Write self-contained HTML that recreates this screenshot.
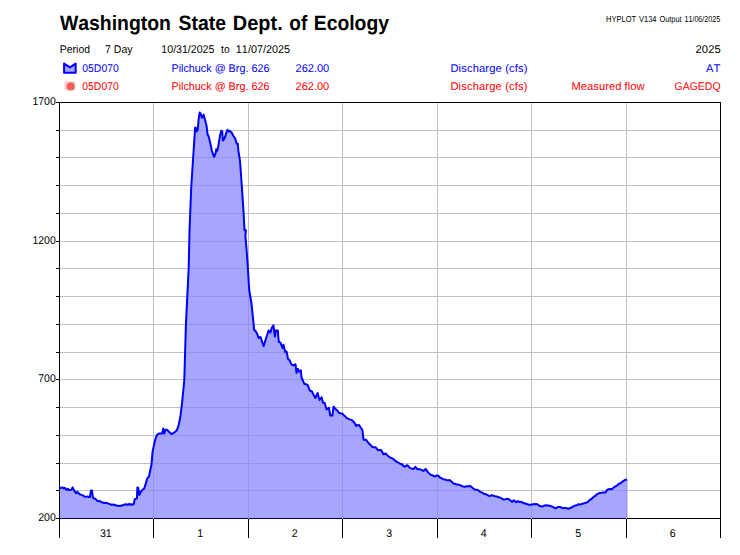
<!DOCTYPE html>
<html><head><meta charset="utf-8"><title>Hydrograph</title>
<style>
html,body{margin:0;padding:0;background:#fff;}
svg{display:block;font-kerning:none;text-rendering:geometricPrecision;font-family:"Liberation Sans",sans-serif;font-size:11.2px;}
.b{fill:#0000ff;} .r{fill:#ff0000;} .k{fill:#000;}
</style></head><body>
<svg width="740" height="555" viewBox="0 0 740 555">
<rect width="740" height="555" fill="#fff"/>
<text transform="translate(59.95 29.8) scale(0.9325 1)" class="k" font-size="20.8" font-weight="bold" xml:space="preserve">Washington</text>
<text transform="translate(178.55 29.8) scale(0.9324 1)" class="k" font-size="20.8" font-weight="bold" xml:space="preserve">State</text>
<text transform="translate(232.85 29.8) scale(0.9584 1)" class="k" font-size="20.8" font-weight="bold" xml:space="preserve">Dept.</text>
<text transform="translate(289.25 29.8) scale(0.9160 1)" class="k" font-size="20.8" font-weight="bold" xml:space="preserve">of</text>
<text transform="translate(313.80 29.8) scale(0.9293 1)" class="k" font-size="20.8" font-weight="bold" xml:space="preserve">Ecology</text>
<text transform="translate(606.10 22) scale(0.8761 1)" class="k" font-size="8.6" xml:space="preserve">HYPLOT</text>
<text transform="translate(639.00 22) scale(0.8702 1)" class="k" font-size="8.6" xml:space="preserve">V134</text>
<text transform="translate(659.40 22) scale(0.8635 1)" class="k" font-size="8.6" xml:space="preserve">Output</text>
<text transform="translate(684.45 22) scale(0.8322 1)" class="k" font-size="8.6" xml:space="preserve">11/06/2025</text>
<text transform="translate(59.85 52.7) scale(0.9318 1)" class="k" xml:space="preserve">Period</text>
<text transform="translate(105.05 52.7) scale(0.9404 1)" class="k" xml:space="preserve">7 Day</text>
<text transform="translate(161.35 52.7) scale(0.9470 1)" class="k" xml:space="preserve">10/31/2025</text>
<text transform="translate(221.10 52.7) scale(0.9152 1)" class="k" xml:space="preserve">to</text>
<text transform="translate(235.85 52.7) scale(0.9681 1)" class="k" xml:space="preserve">11/07/2025</text>
<text transform="translate(695.45 52.7)" class="k" letter-spacing="0.117" xml:space="preserve">2025</text>
<text transform="translate(82.30 71.8) scale(0.9299 1)" class="b" xml:space="preserve">05D070</text>
<text transform="translate(171.45 71.8) scale(0.9651 1)" class="b" xml:space="preserve">Pilchuck @ Brg. 626</text>
<text transform="translate(295.50 71.8) scale(0.9865 1)" class="b" xml:space="preserve">262.00</text>
<text transform="translate(450.40 71.8)" class="b" letter-spacing="0.129" xml:space="preserve">Discharge (cfs)</text>
<text transform="translate(706.00 71.8)" class="b" letter-spacing="0.150" xml:space="preserve">AT</text>
<text transform="translate(82.30 89.8) scale(0.9299 1)" class="r" xml:space="preserve">05D070</text>
<text transform="translate(171.45 89.8) scale(0.9651 1)" class="r" xml:space="preserve">Pilchuck @ Brg. 626</text>
<text transform="translate(295.50 89.8) scale(0.9865 1)" class="r" xml:space="preserve">262.00</text>
<text transform="translate(450.40 89.8)" class="r" letter-spacing="0.129" xml:space="preserve">Discharge (cfs)</text>
<text transform="translate(571.40 89.8)" class="r" letter-spacing="0.033" xml:space="preserve">Measured flow</text>
<text transform="translate(674.55 89.8) scale(0.9365 1)" class="r" xml:space="preserve">GAGEDQ</text>

<path d="M64.1 63.6 L69.9 67.4 L75.7 63.6 L75.7 72.7 L64.1 72.7 Z" fill="#a6a6ff" stroke="#0000ff" stroke-width="2" stroke-linejoin="round"/>
<rect x="64.6" y="81.5" width="10.7" height="8.8" fill="#fbc5c2"/>
<circle cx="70.7" cy="86.5" r="4" fill="#ec6258"/>
<g stroke="#c0c0c0" stroke-width="1" shape-rendering="crispEdges"><line x1="153.5" y1="102.5" x2="153.5" y2="518.5"/><line x1="248.5" y1="102.5" x2="248.5" y2="518.5"/><line x1="342.5" y1="102.5" x2="342.5" y2="518.5"/><line x1="437.5" y1="102.5" x2="437.5" y2="518.5"/><line x1="531.5" y1="102.5" x2="531.5" y2="518.5"/><line x1="626.5" y1="102.5" x2="626.5" y2="518.5"/><line x1="59.5" y1="130.5" x2="720.5" y2="130.5"/><line x1="59.5" y1="157.5" x2="720.5" y2="157.5"/><line x1="59.5" y1="185.5" x2="720.5" y2="185.5"/><line x1="59.5" y1="213.5" x2="720.5" y2="213.5"/><line x1="59.5" y1="241.5" x2="720.5" y2="241.5"/><line x1="59.5" y1="268.5" x2="720.5" y2="268.5"/><line x1="59.5" y1="296.5" x2="720.5" y2="296.5"/><line x1="59.5" y1="324.5" x2="720.5" y2="324.5"/><line x1="59.5" y1="352.5" x2="720.5" y2="352.5"/><line x1="59.5" y1="379.5" x2="720.5" y2="379.5"/><line x1="59.5" y1="407.5" x2="720.5" y2="407.5"/><line x1="59.5" y1="435.5" x2="720.5" y2="435.5"/><line x1="59.5" y1="463.5" x2="720.5" y2="463.5"/><line x1="59.5" y1="490.5" x2="720.5" y2="490.5"/></g>
<g stroke="#000" stroke-width="1" shape-rendering="crispEdges">
<line x1="59.5" y1="102.5" x2="720.5" y2="102.5"/><line x1="59.5" y1="518.5" x2="721" y2="518.5"/>
<line x1="59.5" y1="102.5" x2="59.5" y2="518.5"/><line x1="720.5" y1="102.5" x2="720.5" y2="518.5"/>
<line x1="56" y1="102.5" x2="60" y2="102.5"/><line x1="56" y1="130.5" x2="60" y2="130.5"/><line x1="56" y1="157.5" x2="60" y2="157.5"/><line x1="56" y1="185.5" x2="60" y2="185.5"/><line x1="56" y1="213.5" x2="60" y2="213.5"/><line x1="56" y1="241.5" x2="60" y2="241.5"/><line x1="56" y1="268.5" x2="60" y2="268.5"/><line x1="56" y1="296.5" x2="60" y2="296.5"/><line x1="56" y1="324.5" x2="60" y2="324.5"/><line x1="56" y1="352.5" x2="60" y2="352.5"/><line x1="56" y1="379.5" x2="60" y2="379.5"/><line x1="56" y1="407.5" x2="60" y2="407.5"/><line x1="56" y1="435.5" x2="60" y2="435.5"/><line x1="56" y1="463.5" x2="60" y2="463.5"/><line x1="56" y1="490.5" x2="60" y2="490.5"/><line x1="56" y1="518.5" x2="60" y2="518.5"/><line x1="59.5" y1="518.5" x2="59.5" y2="538"/><line x1="153.5" y1="518.5" x2="153.5" y2="538"/><line x1="248.5" y1="518.5" x2="248.5" y2="538"/><line x1="342.5" y1="518.5" x2="342.5" y2="538"/><line x1="437.5" y1="518.5" x2="437.5" y2="538"/><line x1="531.5" y1="518.5" x2="531.5" y2="538"/><line x1="626.5" y1="518.5" x2="626.5" y2="538"/><line x1="720.5" y1="518.5" x2="720.5" y2="538"/></g>
<defs><clipPath id="ac"><path d="M60.0 487.9 L62.4 487.4 L63.9 488.4 L64.9 487.7 L66.4 489.9 L67.8 488.9 L69.3 490.1 L71.3 489.7 L72.6 487.4 L73.8 489.9 L76.0 493.3 L77.3 491.8 L79.7 494.3 L81.4 494.9 L83.0 495.4 L84.7 496.6 L86.0 496.9 L87.3 496.4 L88.6 497.0 L89.9 497.1 L91.0 490.6 L92.0 490.6 L92.9 497.6 L94.3 498.5 L95.8 499.2 L97.2 500.8 L98.8 501.3 L100.4 501.3 L102.0 502.3 L103.6 502.9 L105.2 502.7 L106.8 503.0 L108.5 503.7 L110.1 504.1 L111.7 504.9 L113.3 504.5 L115.0 505.0 L116.6 505.7 L118.2 505.7 L119.8 506.0 L121.5 505.5 L123.1 505.3 L124.7 504.4 L126.2 504.3 L127.7 504.9 L129.2 503.9 L130.6 504.8 L132.1 504.2 L133.6 504.4 L134.8 499.2 L136.9 498.4 L137.4 487.4 L138.3 487.8 L139.3 495.1 L140.9 491.9 L142.6 489.5 L144.2 488.6 L147.4 478.1 L149.0 476.5 L151.5 464.3 L152.6 451.4 L155.1 440.0 L156.8 435.1 L158.9 433.5 L162.2 433.5 L163.2 428.6 L164.3 433.5 L165.4 429.7 L167.0 429.7 L171.4 434.1 L174.6 432.4 L176.8 430.3 L178.9 424.3 L180.5 415.7 L182.2 401.6 L184.3 380.0 L185.9 325.0 L188.7 267.5 L189.5 231.0 L191.3 186.0 L193.0 160.0 L194.1 143.2 L195.1 127.6 L196.0 128.1 L196.8 131.4 L197.8 129.2 L198.6 119.5 L199.7 112.4 L200.8 114.1 L201.9 117.8 L203.6 114.6 L204.9 119.5 L206.5 125.4 L207.6 134.6 L208.6 136.2 L210.3 143.2 L211.9 150.8 L214.1 156.8 L215.7 153.0 L216.2 149.2 L217.3 150.8 L218.4 145.4 L220.0 135.7 L221.3 130.8 L222.2 131.4 L222.9 140.5 L224.3 138.9 L225.9 134.1 L227.4 129.7 L228.6 131.4 L229.7 130.8 L231.9 133.0 L233.5 136.2 L235.1 138.4 L236.8 143.8 L237.8 143.8 L238.4 150.8 L240.0 160.8 L241.8 186.0 L243.6 213.0 L244.5 230.2 L245.9 230.2 L245.4 235.6 L246.6 250.0 L247.5 262.0 L249.2 290.0 L251.5 303.5 L254.2 329.9 L255.5 331.1 L256.9 333.2 L258.6 338.0 L260.5 337.0 L263.6 346.1 L266.4 337.3 L268.6 330.5 L270.4 332.6 L271.8 327.8 L273.5 325.4 L274.9 336.6 L275.8 330.5 L277.8 330.5 L278.8 342.0 L280.5 342.7 L282.6 348.1 L283.5 344.7 L285.3 352.2 L286.6 351.5 L288.0 358.9 L289.7 360.3 L291.4 364.3 L293.5 365.5 L295.5 364.2 L296.5 373.0 L297.8 368.9 L298.9 371.6 L300.9 370.3 L301.4 377.0 L304.3 383.8 L306.0 384.2 L307.7 385.1 L309.7 390.5 L311.8 391.2 L313.8 395.3 L315.4 398.0 L317.6 393.0 L319.5 400.0 L321.6 397.3 L323.0 402.7 L324.6 402.7 L326.6 409.5 L328.9 407.8 L330.3 415.5 L332.4 415.5 L333.6 406.5 L335.3 408.9 L337.1 410.3 L338.8 412.8 L340.5 413.2 L342.2 413.5 L343.6 415.1 L345.1 416.2 L346.5 417.8 L348.4 418.8 L350.3 419.6 L351.6 419.9 L353.0 421.1 L354.6 423.0 L356.2 425.9 L357.6 425.2 L359.1 425.1 L360.8 427.7 L362.4 430.0 L363.5 439.7 L365.9 439.7 L367.5 441.7 L369.2 443.8 L370.8 445.2 L372.4 447.0 L374.0 447.2 L375.7 447.3 L378.1 450.3 L379.5 450.0 L380.9 449.9 L382.2 451.9 L383.5 454.3 L385.7 453.5 L387.2 455.2 L388.8 456.5 L390.3 457.6 L391.9 458.1 L393.5 459.2 L395.1 460.6 L396.8 461.9 L398.4 462.6 L400.0 463.7 L401.6 464.0 L403.2 465.7 L404.9 466.8 L406.8 465.2 L408.3 466.0 L409.8 467.9 L411.3 468.4 L413.8 468.9 L415.4 466.8 L417.5 469.4 L418.9 469.0 L420.3 469.4 L421.9 470.1 L423.5 471.0 L425.6 468.9 L427.0 471.0 L428.4 472.6 L430.8 474.9 L432.2 475.1 L433.5 476.0 L434.9 476.5 L437.0 475.4 L438.5 475.8 L439.9 477.5 L441.4 478.2 L443.1 479.1 L444.8 479.5 L446.5 480.0 L448.1 480.4 L449.7 480.0 L451.4 481.4 L453.0 483.2 L454.6 483.8 L456.2 484.2 L457.9 484.6 L459.5 484.9 L460.8 485.4 L462.2 486.3 L463.5 486.5 L465.1 486.9 L466.8 486.2 L468.4 486.3 L470.0 486.0 L471.6 486.8 L473.3 488.7 L474.9 489.7 L477.3 489.7 L478.9 490.8 L480.6 492.1 L482.2 492.5 L483.8 493.7 L485.4 493.9 L487.0 494.8 L488.6 495.7 L490.2 495.9 L491.9 495.2 L493.5 495.7 L495.1 496.2 L496.8 496.4 L498.4 497.3 L500.0 497.6 L501.6 498.3 L503.2 499.5 L504.8 499.6 L506.5 498.8 L508.1 499.0 L509.5 499.7 L510.8 500.8 L512.2 501.9 L513.8 500.3 L516.2 502.2 L517.8 501.1 L519.4 502.0 L521.1 501.7 L522.7 502.7 L524.3 503.2 L526.0 503.8 L527.6 504.3 L529.0 504.7 L530.4 504.7 L531.8 504.7 L533.1 504.1 L534.5 504.2 L535.9 504.1 L537.3 504.3 L538.9 505.5 L540.6 506.3 L542.2 506.6 L544.6 505.4 L546.2 505.2 L547.9 505.4 L549.5 505.7 L551.1 506.2 L552.4 506.6 L553.8 507.5 L555.1 508.2 L556.5 507.9 L557.8 507.1 L559.2 507.0 L560.8 507.1 L562.4 508.2 L563.9 508.1 L565.3 508.1 L566.8 508.3 L568.2 508.7 L569.7 508.2 L571.1 507.7 L572.5 506.8 L574.0 506.2 L575.4 505.4 L577.0 505.2 L578.6 504.1 L580.3 504.6 L581.9 503.8 L583.5 503.5 L585.1 503.0 L586.8 502.3 L588.4 501.3 L589.7 500.1 L591.1 499.1 L592.4 498.1 L593.8 496.6 L595.2 496.0 L596.7 494.3 L598.1 493.7 L599.6 493.0 L601.0 492.9 L602.5 492.5 L603.9 492.5 L605.4 492.4 L607.0 490.0 L608.6 489.2 L610.3 488.9 L611.9 489.2 L613.3 487.8 L614.8 486.7 L616.2 486.0 L617.6 485.1 L619.0 483.6 L620.4 483.5 L621.8 482.2 L623.2 481.1 L625.1 479.9 L627.0 479.5 L627.5 479.5 L627.5 519 L60 519 Z"/></clipPath></defs>
<path d="M60.0 487.9 L62.4 487.4 L63.9 488.4 L64.9 487.7 L66.4 489.9 L67.8 488.9 L69.3 490.1 L71.3 489.7 L72.6 487.4 L73.8 489.9 L76.0 493.3 L77.3 491.8 L79.7 494.3 L81.4 494.9 L83.0 495.4 L84.7 496.6 L86.0 496.9 L87.3 496.4 L88.6 497.0 L89.9 497.1 L91.0 490.6 L92.0 490.6 L92.9 497.6 L94.3 498.5 L95.8 499.2 L97.2 500.8 L98.8 501.3 L100.4 501.3 L102.0 502.3 L103.6 502.9 L105.2 502.7 L106.8 503.0 L108.5 503.7 L110.1 504.1 L111.7 504.9 L113.3 504.5 L115.0 505.0 L116.6 505.7 L118.2 505.7 L119.8 506.0 L121.5 505.5 L123.1 505.3 L124.7 504.4 L126.2 504.3 L127.7 504.9 L129.2 503.9 L130.6 504.8 L132.1 504.2 L133.6 504.4 L134.8 499.2 L136.9 498.4 L137.4 487.4 L138.3 487.8 L139.3 495.1 L140.9 491.9 L142.6 489.5 L144.2 488.6 L147.4 478.1 L149.0 476.5 L151.5 464.3 L152.6 451.4 L155.1 440.0 L156.8 435.1 L158.9 433.5 L162.2 433.5 L163.2 428.6 L164.3 433.5 L165.4 429.7 L167.0 429.7 L171.4 434.1 L174.6 432.4 L176.8 430.3 L178.9 424.3 L180.5 415.7 L182.2 401.6 L184.3 380.0 L185.9 325.0 L188.7 267.5 L189.5 231.0 L191.3 186.0 L193.0 160.0 L194.1 143.2 L195.1 127.6 L196.0 128.1 L196.8 131.4 L197.8 129.2 L198.6 119.5 L199.7 112.4 L200.8 114.1 L201.9 117.8 L203.6 114.6 L204.9 119.5 L206.5 125.4 L207.6 134.6 L208.6 136.2 L210.3 143.2 L211.9 150.8 L214.1 156.8 L215.7 153.0 L216.2 149.2 L217.3 150.8 L218.4 145.4 L220.0 135.7 L221.3 130.8 L222.2 131.4 L222.9 140.5 L224.3 138.9 L225.9 134.1 L227.4 129.7 L228.6 131.4 L229.7 130.8 L231.9 133.0 L233.5 136.2 L235.1 138.4 L236.8 143.8 L237.8 143.8 L238.4 150.8 L240.0 160.8 L241.8 186.0 L243.6 213.0 L244.5 230.2 L245.9 230.2 L245.4 235.6 L246.6 250.0 L247.5 262.0 L249.2 290.0 L251.5 303.5 L254.2 329.9 L255.5 331.1 L256.9 333.2 L258.6 338.0 L260.5 337.0 L263.6 346.1 L266.4 337.3 L268.6 330.5 L270.4 332.6 L271.8 327.8 L273.5 325.4 L274.9 336.6 L275.8 330.5 L277.8 330.5 L278.8 342.0 L280.5 342.7 L282.6 348.1 L283.5 344.7 L285.3 352.2 L286.6 351.5 L288.0 358.9 L289.7 360.3 L291.4 364.3 L293.5 365.5 L295.5 364.2 L296.5 373.0 L297.8 368.9 L298.9 371.6 L300.9 370.3 L301.4 377.0 L304.3 383.8 L306.0 384.2 L307.7 385.1 L309.7 390.5 L311.8 391.2 L313.8 395.3 L315.4 398.0 L317.6 393.0 L319.5 400.0 L321.6 397.3 L323.0 402.7 L324.6 402.7 L326.6 409.5 L328.9 407.8 L330.3 415.5 L332.4 415.5 L333.6 406.5 L335.3 408.9 L337.1 410.3 L338.8 412.8 L340.5 413.2 L342.2 413.5 L343.6 415.1 L345.1 416.2 L346.5 417.8 L348.4 418.8 L350.3 419.6 L351.6 419.9 L353.0 421.1 L354.6 423.0 L356.2 425.9 L357.6 425.2 L359.1 425.1 L360.8 427.7 L362.4 430.0 L363.5 439.7 L365.9 439.7 L367.5 441.7 L369.2 443.8 L370.8 445.2 L372.4 447.0 L374.0 447.2 L375.7 447.3 L378.1 450.3 L379.5 450.0 L380.9 449.9 L382.2 451.9 L383.5 454.3 L385.7 453.5 L387.2 455.2 L388.8 456.5 L390.3 457.6 L391.9 458.1 L393.5 459.2 L395.1 460.6 L396.8 461.9 L398.4 462.6 L400.0 463.7 L401.6 464.0 L403.2 465.7 L404.9 466.8 L406.8 465.2 L408.3 466.0 L409.8 467.9 L411.3 468.4 L413.8 468.9 L415.4 466.8 L417.5 469.4 L418.9 469.0 L420.3 469.4 L421.9 470.1 L423.5 471.0 L425.6 468.9 L427.0 471.0 L428.4 472.6 L430.8 474.9 L432.2 475.1 L433.5 476.0 L434.9 476.5 L437.0 475.4 L438.5 475.8 L439.9 477.5 L441.4 478.2 L443.1 479.1 L444.8 479.5 L446.5 480.0 L448.1 480.4 L449.7 480.0 L451.4 481.4 L453.0 483.2 L454.6 483.8 L456.2 484.2 L457.9 484.6 L459.5 484.9 L460.8 485.4 L462.2 486.3 L463.5 486.5 L465.1 486.9 L466.8 486.2 L468.4 486.3 L470.0 486.0 L471.6 486.8 L473.3 488.7 L474.9 489.7 L477.3 489.7 L478.9 490.8 L480.6 492.1 L482.2 492.5 L483.8 493.7 L485.4 493.9 L487.0 494.8 L488.6 495.7 L490.2 495.9 L491.9 495.2 L493.5 495.7 L495.1 496.2 L496.8 496.4 L498.4 497.3 L500.0 497.6 L501.6 498.3 L503.2 499.5 L504.8 499.6 L506.5 498.8 L508.1 499.0 L509.5 499.7 L510.8 500.8 L512.2 501.9 L513.8 500.3 L516.2 502.2 L517.8 501.1 L519.4 502.0 L521.1 501.7 L522.7 502.7 L524.3 503.2 L526.0 503.8 L527.6 504.3 L529.0 504.7 L530.4 504.7 L531.8 504.7 L533.1 504.1 L534.5 504.2 L535.9 504.1 L537.3 504.3 L538.9 505.5 L540.6 506.3 L542.2 506.6 L544.6 505.4 L546.2 505.2 L547.9 505.4 L549.5 505.7 L551.1 506.2 L552.4 506.6 L553.8 507.5 L555.1 508.2 L556.5 507.9 L557.8 507.1 L559.2 507.0 L560.8 507.1 L562.4 508.2 L563.9 508.1 L565.3 508.1 L566.8 508.3 L568.2 508.7 L569.7 508.2 L571.1 507.7 L572.5 506.8 L574.0 506.2 L575.4 505.4 L577.0 505.2 L578.6 504.1 L580.3 504.6 L581.9 503.8 L583.5 503.5 L585.1 503.0 L586.8 502.3 L588.4 501.3 L589.7 500.1 L591.1 499.1 L592.4 498.1 L593.8 496.6 L595.2 496.0 L596.7 494.3 L598.1 493.7 L599.6 493.0 L601.0 492.9 L602.5 492.5 L603.9 492.5 L605.4 492.4 L607.0 490.0 L608.6 489.2 L610.3 488.9 L611.9 489.2 L613.3 487.8 L614.8 486.7 L616.2 486.0 L617.6 485.1 L619.0 483.6 L620.4 483.5 L621.8 482.2 L623.2 481.1 L625.1 479.9 L627.0 479.5 L627.5 479.5 L627.5 519 L60 519 Z" fill="#0000ff" fill-opacity="0.35"/>
<g stroke="#9494eb" stroke-width="1" shape-rendering="crispEdges" clip-path="url(#ac)"><line x1="153.5" y1="102.5" x2="153.5" y2="518.5"/><line x1="248.5" y1="102.5" x2="248.5" y2="518.5"/><line x1="342.5" y1="102.5" x2="342.5" y2="518.5"/><line x1="437.5" y1="102.5" x2="437.5" y2="518.5"/><line x1="531.5" y1="102.5" x2="531.5" y2="518.5"/><line x1="626.5" y1="102.5" x2="626.5" y2="518.5"/><line x1="59.5" y1="130.5" x2="720.5" y2="130.5"/><line x1="59.5" y1="157.5" x2="720.5" y2="157.5"/><line x1="59.5" y1="185.5" x2="720.5" y2="185.5"/><line x1="59.5" y1="213.5" x2="720.5" y2="213.5"/><line x1="59.5" y1="241.5" x2="720.5" y2="241.5"/><line x1="59.5" y1="268.5" x2="720.5" y2="268.5"/><line x1="59.5" y1="296.5" x2="720.5" y2="296.5"/><line x1="59.5" y1="324.5" x2="720.5" y2="324.5"/><line x1="59.5" y1="352.5" x2="720.5" y2="352.5"/><line x1="59.5" y1="379.5" x2="720.5" y2="379.5"/><line x1="59.5" y1="407.5" x2="720.5" y2="407.5"/><line x1="59.5" y1="435.5" x2="720.5" y2="435.5"/><line x1="59.5" y1="463.5" x2="720.5" y2="463.5"/><line x1="59.5" y1="490.5" x2="720.5" y2="490.5"/></g>
<path d="M60.0 487.9 L62.4 487.4 L63.9 488.4 L64.9 487.7 L66.4 489.9 L67.8 488.9 L69.3 490.1 L71.3 489.7 L72.6 487.4 L73.8 489.9 L76.0 493.3 L77.3 491.8 L79.7 494.3 L81.4 494.9 L83.0 495.4 L84.7 496.6 L86.0 496.9 L87.3 496.4 L88.6 497.0 L89.9 497.1 L91.0 490.6 L92.0 490.6 L92.9 497.6 L94.3 498.5 L95.8 499.2 L97.2 500.8 L98.8 501.3 L100.4 501.3 L102.0 502.3 L103.6 502.9 L105.2 502.7 L106.8 503.0 L108.5 503.7 L110.1 504.1 L111.7 504.9 L113.3 504.5 L115.0 505.0 L116.6 505.7 L118.2 505.7 L119.8 506.0 L121.5 505.5 L123.1 505.3 L124.7 504.4 L126.2 504.3 L127.7 504.9 L129.2 503.9 L130.6 504.8 L132.1 504.2 L133.6 504.4 L134.8 499.2 L136.9 498.4 L137.4 487.4 L138.3 487.8 L139.3 495.1 L140.9 491.9 L142.6 489.5 L144.2 488.6 L147.4 478.1 L149.0 476.5 L151.5 464.3 L152.6 451.4 L155.1 440.0 L156.8 435.1 L158.9 433.5 L162.2 433.5 L163.2 428.6 L164.3 433.5 L165.4 429.7 L167.0 429.7 L171.4 434.1 L174.6 432.4 L176.8 430.3 L178.9 424.3 L180.5 415.7 L182.2 401.6 L184.3 380.0 L185.9 325.0 L188.7 267.5 L189.5 231.0 L191.3 186.0 L193.0 160.0 L194.1 143.2 L195.1 127.6 L196.0 128.1 L196.8 131.4 L197.8 129.2 L198.6 119.5 L199.7 112.4 L200.8 114.1 L201.9 117.8 L203.6 114.6 L204.9 119.5 L206.5 125.4 L207.6 134.6 L208.6 136.2 L210.3 143.2 L211.9 150.8 L214.1 156.8 L215.7 153.0 L216.2 149.2 L217.3 150.8 L218.4 145.4 L220.0 135.7 L221.3 130.8 L222.2 131.4 L222.9 140.5 L224.3 138.9 L225.9 134.1 L227.4 129.7 L228.6 131.4 L229.7 130.8 L231.9 133.0 L233.5 136.2 L235.1 138.4 L236.8 143.8 L237.8 143.8 L238.4 150.8 L240.0 160.8 L241.8 186.0 L243.6 213.0 L244.5 230.2 L245.9 230.2 L245.4 235.6 L246.6 250.0 L247.5 262.0 L249.2 290.0 L251.5 303.5 L254.2 329.9 L255.5 331.1 L256.9 333.2 L258.6 338.0 L260.5 337.0 L263.6 346.1 L266.4 337.3 L268.6 330.5 L270.4 332.6 L271.8 327.8 L273.5 325.4 L274.9 336.6 L275.8 330.5 L277.8 330.5 L278.8 342.0 L280.5 342.7 L282.6 348.1 L283.5 344.7 L285.3 352.2 L286.6 351.5 L288.0 358.9 L289.7 360.3 L291.4 364.3 L293.5 365.5 L295.5 364.2 L296.5 373.0 L297.8 368.9 L298.9 371.6 L300.9 370.3 L301.4 377.0 L304.3 383.8 L306.0 384.2 L307.7 385.1 L309.7 390.5 L311.8 391.2 L313.8 395.3 L315.4 398.0 L317.6 393.0 L319.5 400.0 L321.6 397.3 L323.0 402.7 L324.6 402.7 L326.6 409.5 L328.9 407.8 L330.3 415.5 L332.4 415.5 L333.6 406.5 L335.3 408.9 L337.1 410.3 L338.8 412.8 L340.5 413.2 L342.2 413.5 L343.6 415.1 L345.1 416.2 L346.5 417.8 L348.4 418.8 L350.3 419.6 L351.6 419.9 L353.0 421.1 L354.6 423.0 L356.2 425.9 L357.6 425.2 L359.1 425.1 L360.8 427.7 L362.4 430.0 L363.5 439.7 L365.9 439.7 L367.5 441.7 L369.2 443.8 L370.8 445.2 L372.4 447.0 L374.0 447.2 L375.7 447.3 L378.1 450.3 L379.5 450.0 L380.9 449.9 L382.2 451.9 L383.5 454.3 L385.7 453.5 L387.2 455.2 L388.8 456.5 L390.3 457.6 L391.9 458.1 L393.5 459.2 L395.1 460.6 L396.8 461.9 L398.4 462.6 L400.0 463.7 L401.6 464.0 L403.2 465.7 L404.9 466.8 L406.8 465.2 L408.3 466.0 L409.8 467.9 L411.3 468.4 L413.8 468.9 L415.4 466.8 L417.5 469.4 L418.9 469.0 L420.3 469.4 L421.9 470.1 L423.5 471.0 L425.6 468.9 L427.0 471.0 L428.4 472.6 L430.8 474.9 L432.2 475.1 L433.5 476.0 L434.9 476.5 L437.0 475.4 L438.5 475.8 L439.9 477.5 L441.4 478.2 L443.1 479.1 L444.8 479.5 L446.5 480.0 L448.1 480.4 L449.7 480.0 L451.4 481.4 L453.0 483.2 L454.6 483.8 L456.2 484.2 L457.9 484.6 L459.5 484.9 L460.8 485.4 L462.2 486.3 L463.5 486.5 L465.1 486.9 L466.8 486.2 L468.4 486.3 L470.0 486.0 L471.6 486.8 L473.3 488.7 L474.9 489.7 L477.3 489.7 L478.9 490.8 L480.6 492.1 L482.2 492.5 L483.8 493.7 L485.4 493.9 L487.0 494.8 L488.6 495.7 L490.2 495.9 L491.9 495.2 L493.5 495.7 L495.1 496.2 L496.8 496.4 L498.4 497.3 L500.0 497.6 L501.6 498.3 L503.2 499.5 L504.8 499.6 L506.5 498.8 L508.1 499.0 L509.5 499.7 L510.8 500.8 L512.2 501.9 L513.8 500.3 L516.2 502.2 L517.8 501.1 L519.4 502.0 L521.1 501.7 L522.7 502.7 L524.3 503.2 L526.0 503.8 L527.6 504.3 L529.0 504.7 L530.4 504.7 L531.8 504.7 L533.1 504.1 L534.5 504.2 L535.9 504.1 L537.3 504.3 L538.9 505.5 L540.6 506.3 L542.2 506.6 L544.6 505.4 L546.2 505.2 L547.9 505.4 L549.5 505.7 L551.1 506.2 L552.4 506.6 L553.8 507.5 L555.1 508.2 L556.5 507.9 L557.8 507.1 L559.2 507.0 L560.8 507.1 L562.4 508.2 L563.9 508.1 L565.3 508.1 L566.8 508.3 L568.2 508.7 L569.7 508.2 L571.1 507.7 L572.5 506.8 L574.0 506.2 L575.4 505.4 L577.0 505.2 L578.6 504.1 L580.3 504.6 L581.9 503.8 L583.5 503.5 L585.1 503.0 L586.8 502.3 L588.4 501.3 L589.7 500.1 L591.1 499.1 L592.4 498.1 L593.8 496.6 L595.2 496.0 L596.7 494.3 L598.1 493.7 L599.6 493.0 L601.0 492.9 L602.5 492.5 L603.9 492.5 L605.4 492.4 L607.0 490.0 L608.6 489.2 L610.3 488.9 L611.9 489.2 L613.3 487.8 L614.8 486.7 L616.2 486.0 L617.6 485.1 L619.0 483.6 L620.4 483.5 L621.8 482.2 L623.2 481.1 L625.1 479.9 L627.0 479.5" fill="none" stroke="#0000ff" stroke-width="2" stroke-linejoin="round" stroke-linecap="butt"/>
<g class="k"><text transform="translate(55.8 104.5) scale(0.94 1)" text-anchor="end">1700</text><text transform="translate(55.8 243.5) scale(0.94 1)" text-anchor="end">1200</text><text transform="translate(55.8 381.5) scale(0.94 1)" text-anchor="end">700</text><text transform="translate(55.8 520.5) scale(0.94 1)" text-anchor="end">200</text><text transform="translate(105.8 537) scale(0.95 1)" text-anchor="middle">31</text><text transform="translate(200.3 537) scale(0.95 1)" text-anchor="middle">1</text><text transform="translate(294.8 537) scale(0.95 1)" text-anchor="middle">2</text><text transform="translate(389.3 537) scale(0.95 1)" text-anchor="middle">3</text><text transform="translate(483.8 537) scale(0.95 1)" text-anchor="middle">4</text><text transform="translate(578.3 537) scale(0.95 1)" text-anchor="middle">5</text><text transform="translate(672.8 537) scale(0.95 1)" text-anchor="middle">6</text></g>
</svg>
</body></html>
